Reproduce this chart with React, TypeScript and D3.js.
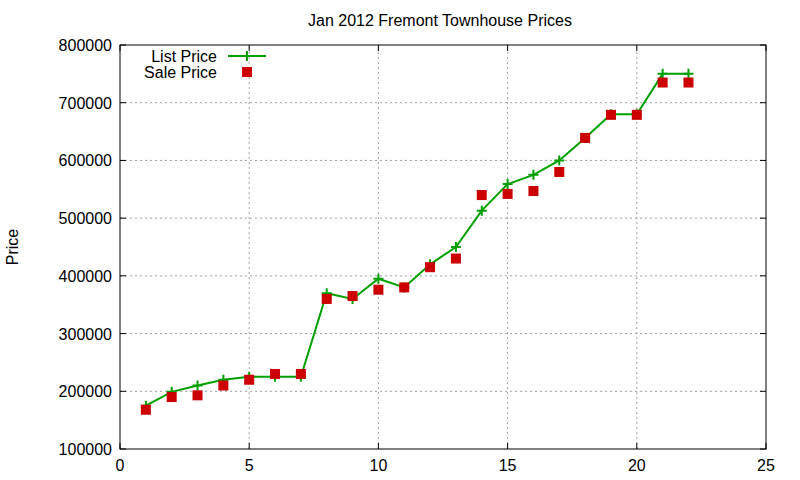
import * as d3 from "d3";

const months = [1, 2, 3, 4, 5, 6, 7, 8, 9, 10, 11, 12, 13, 14, 15, 16, 17, 18, 19, 20, 21, 22];
const listPrice = [
  175000, 199000, 210000, 220000, 225000, 225000, 225000, 370000, 360000, 395000, 380000,
  420000, 450000, 513000, 559000, 575000, 600000, 639000, 680000, 680000, 750000, 750000,
];
const salePrice = [
  168000, 190000, 193000, 210000, 220000, 230000, 230000, 360000, 365000, 376000, 380000,
  415000, 430000, 540000, 542000, 547000, 580000, 639000, 679000, 679000, 735000, 735000,
];
const xTicks = [0, 5, 10, 15, 20, 25];
const yTicks = [100000, 200000, 300000, 400000, 500000, 600000, 700000, 800000];

const W = 800;
const H = 480;
const margin = { top: 45, right: 34, bottom: 31, left: 120 };
const font = "'Liberation Sans', Arial, sans-serif";

export default function App() {
  const x = d3.scaleLinear().domain([0, 25]).range([margin.left, W - margin.right]);
  const y = d3.scaleLinear().domain([100000, 800000]).range([H - margin.bottom, margin.top]);
  const [x0, x1] = x.range();
  const [y0, y1] = y.range();
  const tick = 6;

  const line = d3
    .line<number>()
    .x((_, i) => x(months[i]))
    .y((d) => y(d));

  const plus = (cx: number, cy: number, key: string | number) => (
    <path key={key} d={`M${cx - 5},${cy}H${cx + 5}M${cx},${cy - 5}V${cy + 5}`} stroke="#00a000" strokeWidth={2} />
  );

  return (
    <svg width={W} height={H} style={{ position: "absolute", left: 0, top: 0, background: "#fff" }} fontFamily={font}>
      <rect width={W} height={H} fill="#fff" />
      {/* grid */}
      {xTicks.slice(1, -1).map((t) => (
        <line key={`gx${t}`} x1={x(t)} x2={x(t)} y1={y0} y2={y1} stroke="#a0a0a0" strokeDasharray="2,3" />
      ))}
      {yTicks.slice(1, -1).map((t) => (
        <line key={`gy${t}`} x1={x0} x2={x1} y1={y(t)} y2={y(t)} stroke="#a0a0a0" strokeDasharray="2,3" />
      ))}
      {/* ticks on all sides */}
      {xTicks.map((t) => (
        <g key={`tx${t}`}>
          <line x1={x(t)} x2={x(t)} y1={y0} y2={y0 - tick} stroke="#000" />
          <line x1={x(t)} x2={x(t)} y1={y1} y2={y1 + tick} stroke="#000" />
          <text x={x(t)} y={y0 + 22} textAnchor="middle" fontSize={16}>
            {t}
          </text>
        </g>
      ))}
      {yTicks.map((t) => (
        <g key={`ty${t}`}>
          <line x1={x0} x2={x0 + tick} y1={y(t)} y2={y(t)} stroke="#000" />
          <line x1={x1} x2={x1 - tick} y1={y(t)} y2={y(t)} stroke="#000" />
          <text x={x0 - 8} y={y(t) + 6} textAnchor="end" fontSize={16}>
            {t}
          </text>
        </g>
      ))}
      <rect x={x0} y={y1} width={x1 - x0} height={y0 - y1} fill="none" stroke="#000" />
      {/* list price line */}
      <path d={line(listPrice) ?? ""} fill="none" stroke="#00a000" strokeWidth={2} />
      {listPrice.map((v, i) => plus(x(months[i]), y(v), `p${i}`))}
      {/* sale price squares */}
      {salePrice.map((v, i) => (
        <rect key={`s${i}`} x={x(months[i]) - 5} y={y(v) - 5} width={10} height={10} fill="#cc0000" />
      ))}
      {/* legend */}
      <text x={217} y={62} textAnchor="end" fontSize={16}>
        List Price
      </text>
      <line x1={228} x2={266} y1={56} y2={56} stroke="#00a000" strokeWidth={2} />
      {plus(247, 56, "lp")}
      <text x={217} y={78} textAnchor="end" fontSize={16}>
        Sale Price
      </text>
      <rect x={242} y={67} width={10} height={10} fill="#cc0000" />
      {/* title and axis label */}
      <text x={440} y={26} textAnchor="middle" fontSize={16}>
        Jan 2012 Fremont Townhouse Prices
      </text>
      <text transform={`translate(18,${(y0 + y1) / 2}) rotate(-90)`} textAnchor="middle" fontSize={16}>
        Price
      </text>
    </svg>
  );
}
